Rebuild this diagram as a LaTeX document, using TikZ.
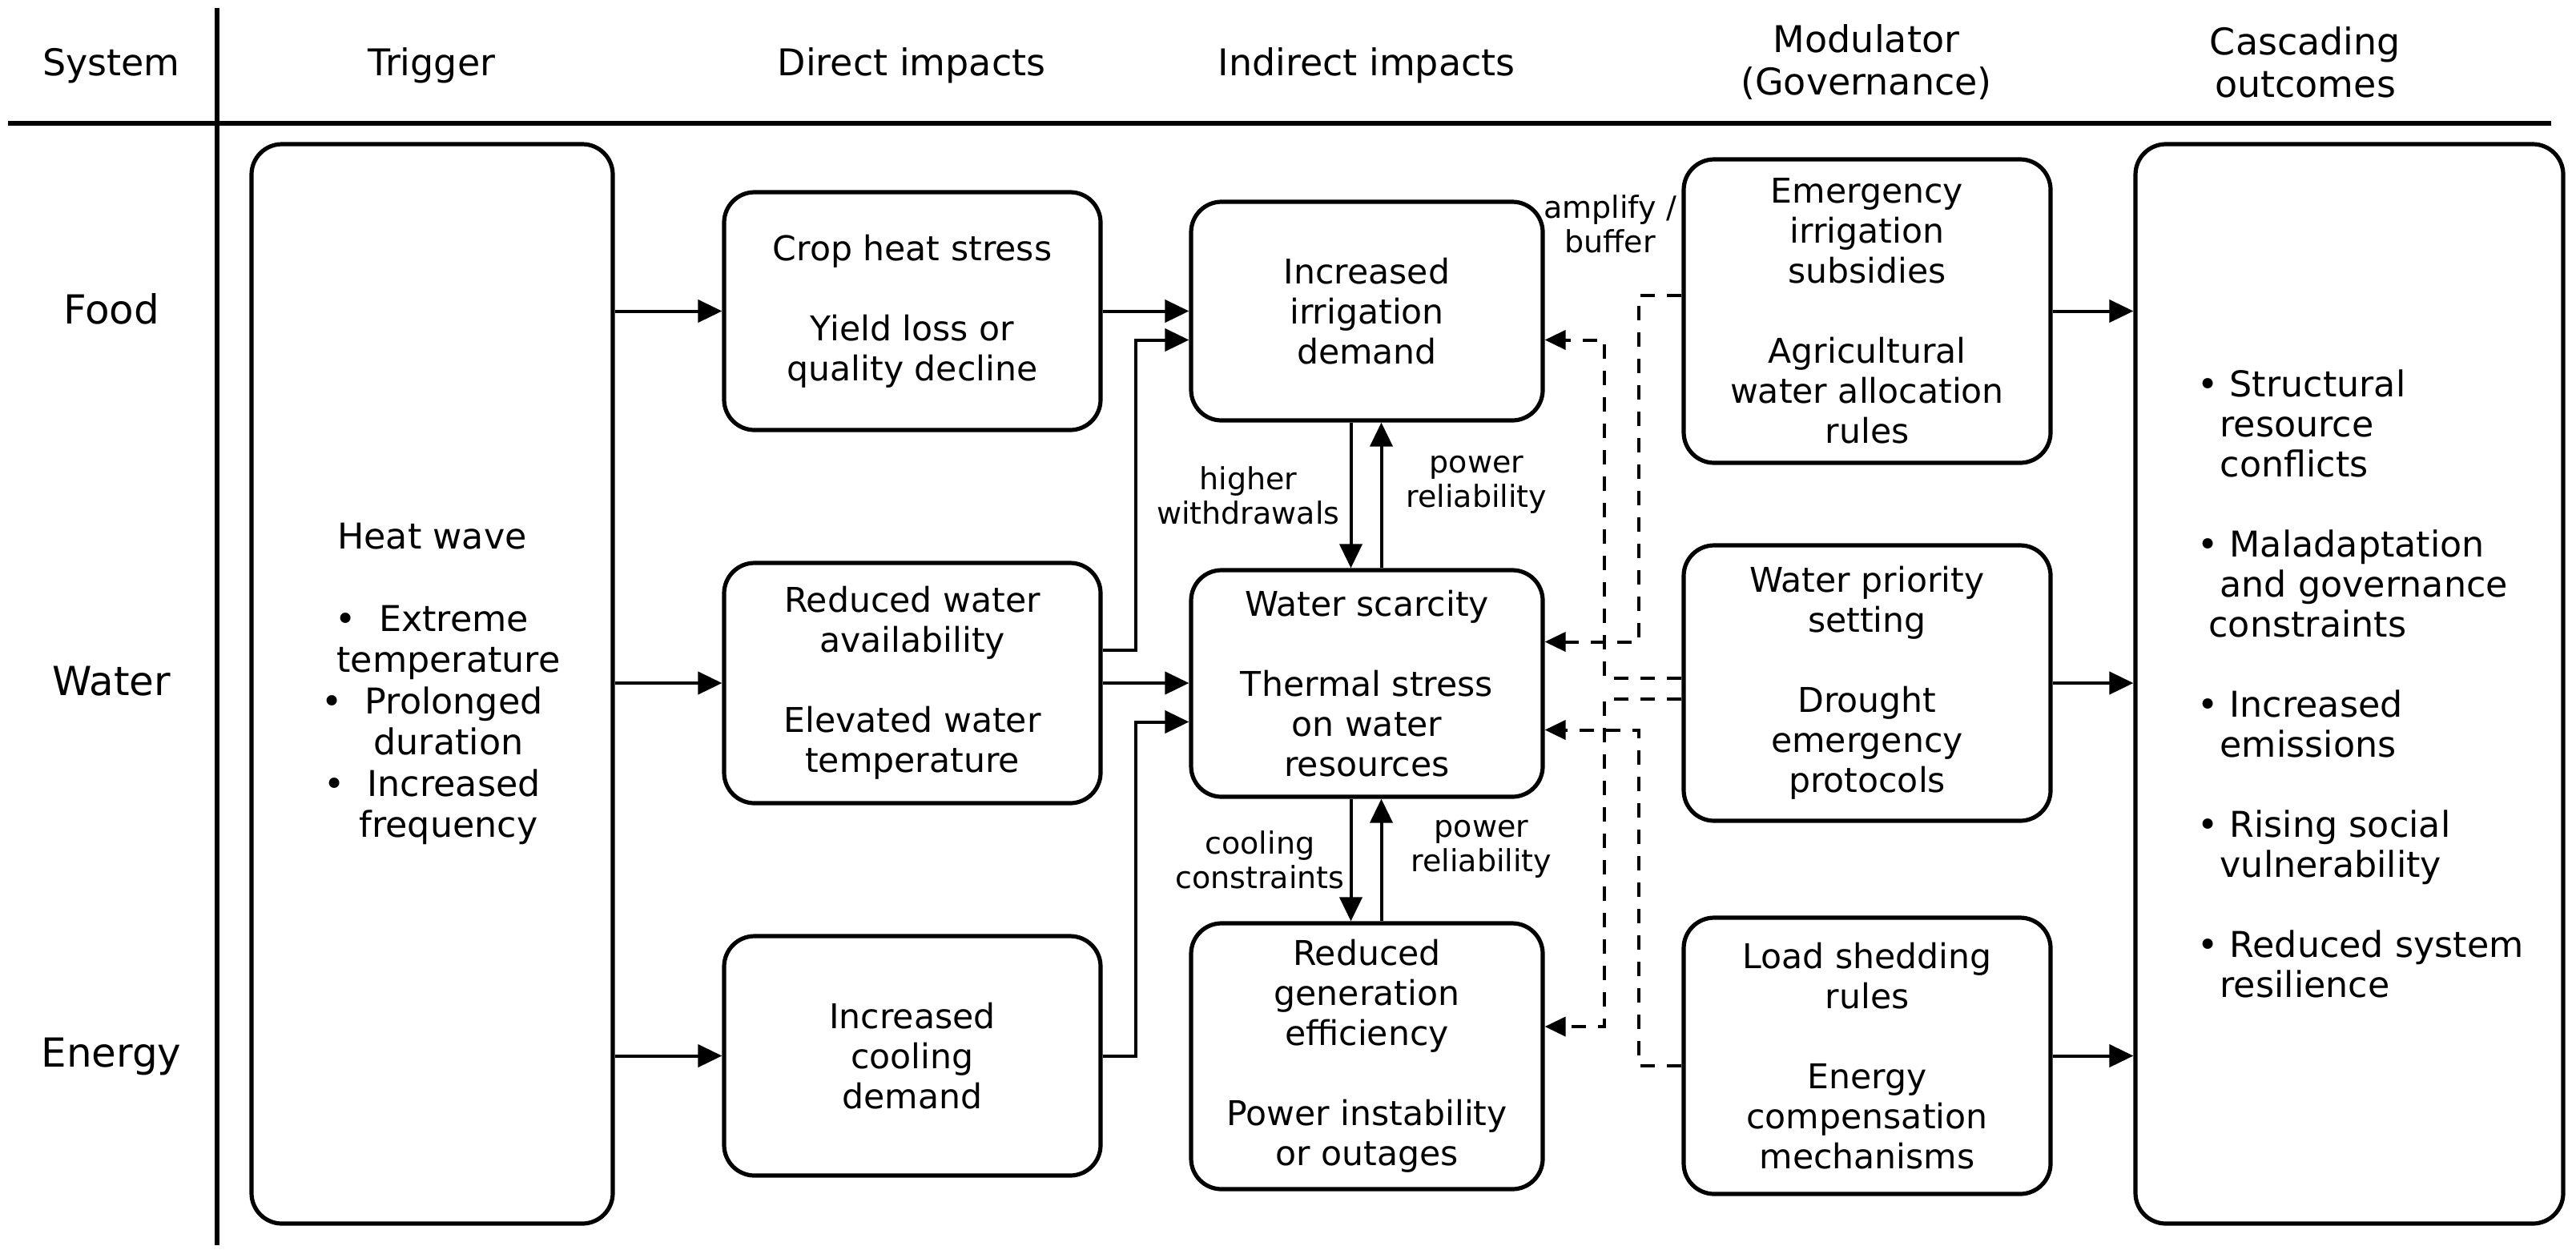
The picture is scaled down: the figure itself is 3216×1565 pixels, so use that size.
\documentclass[tikz,border=0pt]{standalone}
\usepackage{fontspec}
\setmainfont{DejaVu Sans}
\usetikzlibrary{arrows.meta}
\begin{document}
\begin{tikzpicture}[x=0.5pt,y=-0.5pt,
  box/.style={draw, line width=2.6pt, rounded corners=19pt, align=center,
    font=\fontsize{21.3}{25}\selectfont, inner sep=0pt},
  bigtxt/.style={font=\fontsize{22.2}{25.7}\selectfont},
  hdr/.style={font=\fontsize{23}{26.5}\selectfont, align=center},
  rowlbl/.style={font=\fontsize{25}{30}\selectfont},
  lbl/.style={font=\fontsize{19}{21.5}\selectfont, align=center, inner sep=0pt},
  arr/.style={line width=2pt, -{Triangle[length=15pt,width=14pt]}},
  darr/.style={line width=2pt, dash pattern=on 9pt off 7.5pt, -{Triangle[length=13pt,width=12pt]}},
  frame/.style={line width=2.8pt}]
\useasboundingbox (0,0) rectangle (3216,1565);

% frame
\draw[frame] (10,154) -- (3185,154);
\draw[frame] (271,10) -- (271,1555);

% headers
\node[hdr] (hsys) at (139,82) {System};
\node[hdr] (htrig) at (539,82) {Trigger};
\node[hdr] (hdir) at (1138,82) {Direct impacts};
\node[hdr] (hind) at (1706,82) {Indirect impacts};
\node[hdr] (hmod) at (2330,78) {Modulator\\(Governance)};
\node[hdr] (hcas) at (2878,78) {Cascading\\outcomes};

% row labels
\node[rowlbl] (rfood) at (139,386) {Food};
\node[rowlbl] (rwater) at (139,851) {Water};
\node[rowlbl] (renergy) at (139,1319) {Energy};

% trigger
\node[box, bigtxt, minimum width=225.5pt, minimum height=674pt] (trig) at (539.5,854)
  {Heat wave\\[25.7pt]•\ \ Extreme\\\hspace*{20.5pt}temperature\\•\ \ Prolonged\\\hspace*{20.5pt}duration\\•\ \ Increased\\\hspace*{20.5pt}frequency};

% direct impacts
\node[box, minimum width=235pt, minimum height=148.5pt] (crop) at (1139,388.5)
  {Crop heat stress\\[25pt]Yield loss or\\quality decline};
\node[box, minimum width=235pt, minimum height=150pt] (rw) at (1139,853)
  {Reduced water\\availability\\[25pt]Elevated water\\temperature};
\node[box, minimum width=235pt, minimum height=149.5pt] (cool) at (1139,1318.5)
  {Increased\\cooling\\demand};

% indirect impacts
\node[box, minimum width=219.5pt, minimum height=136.5pt] (irr) at (1706.5,388.5)
  {Increased\\irrigation\\demand};
\node[box, minimum width=219.5pt, minimum height=141.5pt] (ws) at (1706.5,853.5)
  {Water scarcity\\[25pt]Thermal stress\\on water\\resources};
\node[box, minimum width=219.5pt, minimum height=166pt] (rg) at (1706.5,1319)
  {Reduced\\generation\\efficiency\\[25pt]Power instability\\or outages};

% modulators
\node[box, minimum width=229pt, minimum height=189.5pt] (em) at (2331,388.5)
  {Emergency\\irrigation\\subsidies\\[25pt]Agricultural\\water allocation\\rules};
\node[box, minimum width=229pt, minimum height=172pt] (wp) at (2331,853)
  {Water priority\\setting\\[25pt]Drought\\emergency\\protocols};
\node[box, minimum width=229pt, minimum height=172.5pt] (ls) at (2331,1318.5)
  {Load shedding\\rules\\[25pt]Energy\\compensation\\mechanisms};

% cascading
\node[box, minimum width=267pt, minimum height=674pt] (cas) at (2933,854) {};
\node[align=left, inner sep=0pt, font=\fontsize{22.2}{25}\selectfont] (castxt) at (2947,854)
  {• Structural\\\hspace*{0.636em}resource\\\hspace*{0.636em}conflicts\\[25pt]%
   • Maladaptation\\\hspace*{0.636em}and governance\\\hspace*{0.318em}constraints\\[25pt]%
   • Increased\\\hspace*{0.636em}emissions\\[25pt]%
   • Rising social\\\hspace*{0.636em}vulnerability\\[25pt]%
   • Reduced system\\\hspace*{0.636em}resilience};

% trigger -> direct
\draw[arr] (trig.east |- crop.west) -- (crop.west);
\draw[arr] (trig.east |- rw.west) -- (rw.west);
\draw[arr] (trig.east |- cool.west) -- (cool.west);

% direct -> indirect
\draw[arr] (crop.east) -- (crop.east -| irr.west);
\draw[arr] ([yshift=20.5pt]rw.east) -- ++(41,0) |- ([yshift=-18pt]irr.west);
\draw[arr] (rw.east) -- (rw.east -| ws.west);
\draw[arr] (cool.east) -- ++(41,0) |- ([yshift=-24pt]ws.west);

% indirect interactions
\draw[arr] ([xshift=-10pt]irr.south) -- node[lbl, left=6pt] {higher\\withdrawals} ([xshift=-10pt]ws.north);
\draw[arr] ([xshift=9pt]ws.north) -- node[lbl, pos=0.57, right=14.5pt] {power\\reliability} ([xshift=9pt]irr.south);
\draw[arr] ([xshift=-10pt]ws.south) -- node[lbl, left=3pt] {cooling\\constraints} ([xshift=-10pt]rg.north);
\draw[arr] ([xshift=9pt]rg.north) -- node[lbl, pos=0.59, right=17.5pt] {power\\reliability} ([xshift=9pt]ws.south);

% governance (dashed)
\draw[darr] ([yshift=10pt]em.west) -- ++(-53,0) |- ([yshift=26pt]ws.east);
\draw[darr] ([yshift=3pt]wp.west) -- ++(-96,0) |- ([yshift=-18pt]irr.east);
\draw[darr] ([yshift=-10pt]wp.west) -- ++(-96,0) |- ([yshift=18.5pt]rg.east);
\draw[darr] ([yshift=-6pt]ls.west) -- ++(-53,0) |- ([yshift=-29pt]ws.east);
\node[lbl] (amp) at (2010,280) {amplify /\\buffer};

% modulator -> cascading
\draw[arr] (em.east |- crop.west) -- (cas.west |- crop.west);
\draw[arr] (wp.east |- rw.west) -- (cas.west |- rw.west);
\draw[arr] (ls.east |- cool.west) -- (cas.west |- cool.west);
\end{tikzpicture}
\end{document}
